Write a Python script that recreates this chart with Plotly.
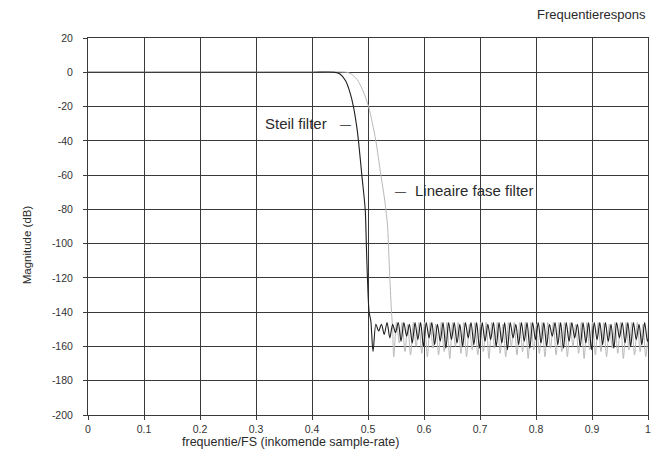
import plotly.graph_objects as go

# ---------------- data ----------------
title_text = "Frequentierespons"
x_title = "frequentie/FS (inkomende sample-rate)"
y_title = "Magnitude (dB)"
x_ticks = [0, 0.1, 0.2, 0.3, 0.4, 0.5, 0.6, 0.7, 0.8, 0.9, 1]
y_ticks = [20, 0, -20, -40, -60, -80, -100, -120, -140, -160, -180, -200]

# "Steil filter" (dark): passband + transition band
steep_x = [0.0, 0.1, 0.2, 0.3, 0.4, 0.44, 0.45, 0.46, 0.468, 0.474, 0.48, 0.483,
           0.489, 0.495, 0.497, 0.499, 0.502, 0.505]
steep_y = [0, 0, 0, 0, 0, 0, -1, -5, -12, -20, -32, -40,
           -60, -80, -100, -120, -140, -145]
# stopband ripple of the steep filter: nulls and lobe peaks (dB)
steep_null_start = 0.509
steep_period = 0.01
steep_nulls = [-163, -151, -153, -155, -152, -157, -154, -158, -156, -160,
               -155, -159, -157, -161, -156, -158, -160, -155, -159, -161,
               -157, -156, -160, -158, -162, -155, -159, -157, -161, -156,
               -158, -160, -154, -159, -161, -157, -155, -160, -158, -162,
               -156, -159, -157, -161, -155, -158, -160, -156, -159, -157]
steep_peaks = [-147, -147, -146, -147, -146, -146, -147, -146, -146, -146,
               -146, -147, -146, -146, -146, -147, -146, -146, -146, -146,
               -147, -146, -146, -146, -146, -147, -146, -146, -146, -146,
               -146, -147, -146, -146, -146, -146, -147, -146, -146, -146,
               -146, -146, -147, -146, -146, -146, -146, -147, -146, -146]

# "Lineaire fase filter" (grey): passband + transition band
lin_x = [0.0, 0.1, 0.2, 0.3, 0.4, 0.462, 0.47, 0.48, 0.49, 0.501, 0.508, 0.514,
         0.523, 0.53, 0.535, 0.537, 0.539, 0.542, 0.544]
lin_y = [0, 0, 0, 0, 0, 0, -1, -4, -10, -20, -30, -40,
         -60, -75, -90, -105, -120, -140, -150]
lin_null_start = 0.546
lin_period = 0.01
lin_nulls = [-166, -158, -163, -165, -160, -164, -166, -161, -165, -163,
             -167, -160, -164, -166, -162, -165, -163, -167, -161, -164,
             -166, -160, -165, -163, -167, -162, -164, -166, -161, -165,
             -163, -166, -160, -164, -167, -162, -165, -163, -166, -161,
             -164, -167, -162, -165, -163, -166]
lin_peaks = [-146, -146, -147, -146, -146, -146, -146, -147, -146, -146,
             -146, -146, -146, -147, -146, -146, -146, -146, -146, -147,
             -146, -146, -146, -146, -146, -147, -146, -146, -146, -146,
             -146, -146, -147, -146, -146, -146, -146, -146, -147, -146,
             -146, -146, -146, -146, -147, -146]


def build(x0, y0, start, period, nulls, peaks):
    xs, ys = list(x0), list(y0)
    for k, (n, p) in enumerate(zip(nulls, peaks)):
        f = start + k * period  # frequency sampling grid
        xs += [f, f + period / 2]
        ys += [n, p]
    return xs, ys


sx, sy = build(steep_x, steep_y, steep_null_start, steep_period, steep_nulls, steep_peaks)
lx, ly = build(lin_x, lin_y, lin_null_start, lin_period, lin_nulls, lin_peaks)

font_family = "Liberation Sans, Arial, sans-serif"
txt_col = "#2a2a2a"

fig = go.Figure()
fig.add_trace(go.Scatter(x=lx, y=ly, mode="lines",
                         line=dict(color="#b8b8b8", width=1, shape="spline", smoothing=0.8),
                         name="Lineaire fase filter", hoverinfo="skip"))
fig.add_trace(go.Scatter(x=sx, y=sy, mode="lines",
                         line=dict(color="#1e1e1e", width=1.1, shape="spline", smoothing=0.8),
                         name="Steil filter", hoverinfo="skip"))

ann_font = dict(family=font_family, size=15, color=txt_col)
dash_font = dict(family=font_family, size=11, color=txt_col)
fig.add_annotation(x=0.43, y=-30, text="Steil filter", showarrow=False,
                   xanchor="right", yanchor="middle", font=ann_font)
fig.add_annotation(x=0.46, y=-30, text="—", showarrow=False,
                   xanchor="center", yanchor="middle", font=dash_font)
fig.add_annotation(x=0.558, y=-69, text="—", showarrow=False,
                   xanchor="center", yanchor="middle", font=dash_font)
fig.add_annotation(x=0.58, y=-69, text="Lineaire fase filter", showarrow=False,
                   xanchor="left", yanchor="middle", font=ann_font)
fig.add_annotation(xref="paper", yref="paper", x=1.0, y=1.0, yshift=14,
                   text=title_text, showarrow=False, xanchor="right", yanchor="bottom",
                   font=dict(family=font_family, size=13, color=txt_col))
# axis titles (placed like the original, slightly off-centre)
fig.add_annotation(xref="x", yref="paper", x=0.362, y=0, yshift=-18,
                   text=x_title, showarrow=False, xanchor="center", yanchor="top",
                   font=dict(family=font_family, size=12.5, color=txt_col))
fig.add_annotation(xref="paper", yref="y", x=0, xshift=-61, y=-101,
                   text=y_title, showarrow=False, textangle=-90,
                   xanchor="center", yanchor="middle",
                   font=dict(family=font_family, size=11.5, color=txt_col))

grid_col = "#3a3a3a"
tick_font = dict(family=font_family, size=10.5, color="#333")
fig.update_xaxes(range=[0, 1], tickvals=x_ticks, ticktext=[str(v) for v in x_ticks],
                 showgrid=True, gridcolor=grid_col, gridwidth=1,
                 showline=True, linecolor=grid_col, linewidth=1, mirror=True,
                 ticks="outside", ticklen=4, tickcolor=grid_col,
                 zeroline=False, ticklabeloverflow="allow",
                 tickfont=tick_font)
fig.update_yaxes(range=[-200, 20], tickvals=y_ticks,
                 ticktext=[str(v) for v in y_ticks],
                 showgrid=True, gridcolor=grid_col, gridwidth=1,
                 showline=True, linecolor=grid_col, linewidth=1, mirror=True,
                 ticks="outside", ticklen=4, tickcolor=grid_col,
                 zeroline=False, ticklabelstandoff=8,
                 tickfont=tick_font)

fig.update_layout(width=654, height=458, showlegend=False,
                  plot_bgcolor="white", paper_bgcolor="white",
                  margin=dict(l=88, r=3, t=38, b=43))

fig.write_html("out.html")
